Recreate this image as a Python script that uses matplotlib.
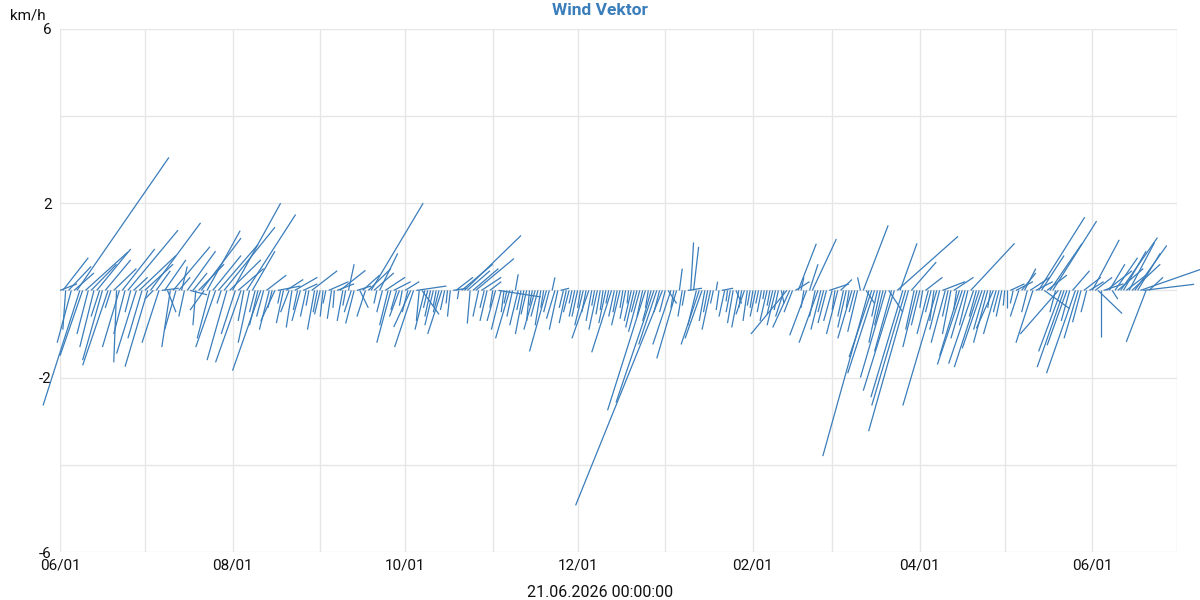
import matplotlib
matplotlib.use("Agg")
import matplotlib.pyplot as plt
import matplotlib.dates as mdates
from matplotlib.collections import LineCollection
from matplotlib.ticker import FixedLocator, NullFormatter
import numpy as np
import pandas as pd

plt.rcParams['font.family'] = ['Roboto', 'DejaVu Sans']

# ---- data: daily wind vectors (v = north component km/h, u = east component km/h) ----
start_date = "2025-06-01"
x_tick_labels = ["06/01", "08/01", "10/01", "12/01", "02/01", "04/01", "06/01"]
y_tick_values = [-6, -2, 2, 6]

v_2025_06 = [0.15, 0.75, -0.9, 0.55, -1.2, 0.4, 3.05, -2.64, -1.5, 0.88, -1.0, 0.6, -1.3, 0.95, -0.6,
             -1.6, 0.7, -1.72, -0.4, 0.5, -1.65, -1.3, 0.95, -1.0, 1.38, -0.5, 0.3, -1.45, 0.8, -1.1]
u_2025_06 = [0.6, 0.9, -0.1, 0.8, -0.5, 0.7, 3.25, -1.3, -0.8, 1.5, -0.4, 0.9, -0.5, 1.2, -0.3,
             -0.7, 0.9, -0.9, -0.2, 0.8, -0.1, -0.6, 1.15, -0.4, 1.77, -0.2, 0.5, -0.7, 1.3, -0.5]

v_2025_07 = [0.6, -1.75, 1.55, -0.2, 0.45, -1.2, 0.05, 0.7, -0.5, -1.3, 1.0, -0.9, 0.3, 0.55, -0.6, 0.9,
             -0.1, 0.4, -0.8, 0.6, 1.2, -0.45, 1.37, -1.1, 0.8, -1.3, 1.05, -0.3, 1.45, -1.6, 0.7]
u_2025_07 = [1.0, -0.8, 1.77, -0.3, 0.5, -0.6, 0.6, 0.75, 0.3, -0.3, 1.3, -0.4, 0.4, 0.2, -0.2, 1.0,
             0.6, 0.5, -0.1, 0.9, 1.4, -0.5, 1.17, -0.45, 1.0, -0.7, 1.4, -0.15, 1.8, -0.7, 1.1]

v_2025_08 = [2.0, -1.0, 0.5, -1.65, -0.7, 1.74, -1.2, 0.9, -0.5, -0.8, -1.84, -0.6, 0.35, -0.9, -0.4, -0.7,
             0.1, -0.3, -0.75, 0.25, -0.5, -0.85, 0.3, -0.45, -0.7, 0.15, -0.6, -0.35, 0.45, -0.9, -0.5]
u_2025_08 = [1.7, -0.5, 0.9, -0.9, -0.2, 1.73, -0.4, 0.8, -0.2, -0.3, -1.0, -0.25, 0.7, -0.35, -0.15, -0.5,
             0.8, -0.1, -0.25, 0.6, -0.3, -0.2, 0.8, -0.15, -0.3, 0.5, -0.2, -0.1, 0.9, -0.25, -0.15]

v_2025_09 = [-0.55, -0.6, -0.3, 0.2, -0.65, -0.4, 0.15, 0.46, -0.7, -0.35, 0.6, -0.5, -0.76, 0.1, -0.4,
             0.35, -0.6, 0.5, 2.0, 0.4, -0.3, 0.85, -0.5, 0.3, -0.8, -1.2, 0.2, -0.45, -0.6, -0.35]
u_2025_09 = [-0.2, -0.1, -0.1, 0.7, -0.15, -0.05, 0.6, 0.9, -0.2, -0.1, 0.2, -0.25, -0.3, 0.5, 0.3,
             0.6, -0.3, 0.8, 1.84, 0.7, -0.1, 0.64, -0.2, 0.7, -0.3, -0.5, 0.6, -0.2, -0.35, -0.1]

v_2025_10 = [0.2, -0.5, -0.84, -1.3, 0.1, -0.7, -0.55, -0.9, -0.4, -0.6, -0.8, -0.35, -0.5, -1.0, -0.45, -0.3,
             -0.6, 0.05, 0.3, -0.2, 0.6, 1.26, 0.45, -0.76, 0.5, 0.73, -0.6, 0.3, -0.4, -0.7, 0.2]
u_2025_10 = [0.5, -0.2, -0.6, -0.67, 1.06, -0.1, 0.6, -0.35, -0.15, -0.2, -0.3, -0.1, -0.2, -0.5, -0.15, -0.05,
             -0.1, 0.5, 0.6, -0.05, 1.1, 2.0, 0.8, -0.1, 0.9, 1.35, -0.2, 0.7, -0.15, -0.25, 0.4]

v_2025_11 = [-0.4, -0.7, -0.15, -0.9, -0.5, -0.3, -1.1, -0.6, 0.37, -0.8, -0.45, -1.0, -0.55, -0.7, -0.35,
             -0.9, -0.6, -0.8, -0.4, -1.4, -0.5, 0.3, -0.65, -0.9, 0.05, -0.4, -0.75, -0.5, -0.3, -0.6]
u_2025_11 = [-0.1, -0.3, 1.5, -0.35, -0.1, -0.1, -0.5, -0.2, 0.1, -0.3, -0.15, -0.3, -0.2, -0.1, -0.1,
             -0.4, -0.25, -0.2, -0.1, -0.6, -0.2, 0.1, -0.3, -0.3, 0.3, -0.15, -0.25, -0.2, -0.1, -0.2]

v_2025_12 = [-0.6, -0.4, -0.8, -0.5, -1.1, -0.7, -0.35, -0.9, -0.55, -0.45, -0.75, -0.3, -1.42, -0.6, -0.5, -0.8,
             -0.4, -0.65, -0.3, -0.7, -0.85, -0.5, -0.95, -0.6, -2.75, -0.4, -0.7, -2.57, -1.24, -0.5, -4.93]
u_2025_12 = [-0.2, -0.1, -0.3, -0.15, -0.6, -0.2, -0.1, -0.3, -0.15, -0.1, -0.25, -0.1, -0.7, -0.2, -0.15, -0.3,
             -0.1, -0.2, -0.05, -0.25, -0.3, -0.2, -0.4, -0.2, -1.34, -0.1, -0.3, -1.34, -0.64, -0.2, -3.07]

v_2026_01 = [-0.5, -0.3, -1.24, -0.4, -1.56, 0.5, -0.6, -0.35, 0.05, 1.1, 1.0, -0.8, -1.24, -1.1, -0.7, -0.5,
             -0.9, -0.3, 0.2, -0.45, 0.05, -0.6, -0.25, -0.5, -0.75, -0.3, -0.85, -0.4, -0.55, -0.7, -0.35]
u_2026_01 = [-0.2, 0.3, -0.64, -0.1, -0.7, 0.1, -0.15, -0.1, 0.5, 0.1, 0.18, -0.3, -0.64, -0.6, -0.2, -0.15,
             -0.3, -0.1, 0.05, -0.1, 0.4, -0.2, -0.05, -0.15, -0.2, 0.2, -0.25, -0.1, -0.3, -0.15, -0.1]

v_2026_02 = [-0.4, -0.6, -0.3, -0.5, -0.2, -0.7, -0.35, -0.55, -0.8, -0.45, -0.3, -0.6, -1.0, -0.85,
             -0.5, 0.2, 1.07, 0.3, -0.4, -1.03, 0.6, 1.18, -0.6, -1.2, -0.9, -0.5, -0.75, 0.15]
u_2026_02 = [-0.1, -0.2, -0.1, -0.15, -0.05, -0.25, -0.1, -0.2, -0.3, -0.15, 0.1, -0.3, -1.27, -0.6,
             -0.3, 0.5, 0.64, 0.1, -0.1, -0.6, 0.3, 0.85, -0.2, -0.67, -0.35, -0.2, -0.3, 0.7]

v_2026_03 = [-0.7, -0.45, -1.0, 0.25, -0.6, -0.85, -0.4, -1.1, -0.5, -0.95, 0.3, 1.49, -0.3, -3.8, -1.53, -1.9,
             -0.6, -1.2, -0.8, -2.0, -0.5, -1.4, -2.3, 1.24, 1.08, -2.45, -2.64, -3.23, 0.65, -0.9, -1.3]
u_2026_03 = [-0.3, -0.1, -0.4, 0.4, -0.2, -0.3, -0.1, -0.5, -0.2, -0.35, -0.1, 0.88, 0.3, -1.63, -0.8, -0.95,
             -0.2, -0.4, -0.3, -0.9, 0.5, -0.6, -1.1, 2.15, 0.6, -1.13, -1.2, -1.41, 0.88, -0.3, -0.5]

v_2026_04 = [-0.8, -0.4, 0.3, -1.0, -0.5, -0.7, -2.64, -0.9, 0.2, -1.2, -0.6, -1.0, 0.3, -0.45, -1.5,
             -1.7, -1.1, -0.8, 1.08, -1.68, -0.6, -1.76, -1.33, -0.9, -1.2, -0.4, -0.87, -1.0, -0.5, -0.6]
u_2026_04 = [-0.3, -0.1, 0.6, -0.4, -0.2, -0.15, -1.2, -0.35, 0.8, -0.5, -0.2, -0.3, 0.7, -0.1, -0.7,
             -0.88, -0.5, -0.3, 1.55, -0.88, -0.25, -0.88, -0.7, -0.4, -0.5, -0.1, -0.6, -0.45, -0.2, -0.2]

v_2026_05 = [-0.35, -0.4, 0.15, -0.3, 0.2, -0.6, 0.4, 0.5, -0.5, 0.3, -1.2, 0.2, 1.68, 0.8, -0.42, 0.35,
             1.07, 1.59, -0.5, -1.0, -1.4, -1.76, -1.26, -0.7, 0.45, -1.9, -1.1, -0.73, 0.3, -0.5, 0.2]
u_2026_05 = [-0.05, 0.0, 0.5, -0.1, 0.6, -0.3, 0.5, 0.4, -0.2, 0.7, -0.6, 0.6, 1.63, 0.8, 0.9, 0.7,
             1.13, 1.55, -0.2, -1.35, -0.8, -0.95, -0.7, -0.3, 0.6, -1.02, -0.5, -0.3, 0.6, -0.2, 0.5]

v_2026_06 = [1.16, 0.3, -0.53, -1.07, 0.15, 0.45, 0.6, -0.2, 0.75, 0.5, 1.21, 0.9, 0.35, 1.1, 0.6,
             1.03, 0.85, 0.48, 0.14, -1.18, 0.3]
u_2026_06 = [0.95, 0.6, 0.85, 0.0, 0.7, 0.9, 0.55, 0.2, 0.8, 0.9, 1.3, 0.8, 0.7, 0.9, 1.0,
             1.13, 0.8, 2.12, 1.8, -0.7, 0.5]

v_kmh = (v_2025_06 + v_2025_07 + v_2025_08 + v_2025_09 + v_2025_10 + v_2025_11 + v_2025_12
         + v_2026_01 + v_2026_02 + v_2026_03 + v_2026_04 + v_2026_05 + v_2026_06)
u_kmh = (u_2025_06 + u_2025_07 + u_2025_08 + u_2025_09 + u_2025_10 + u_2025_11 + u_2025_12
         + u_2026_01 + u_2026_02 + u_2026_03 + u_2026_04 + u_2026_05 + u_2026_06)

# ---- style ----
DAYS_PER_KMH = 10.0
LINE_COLOR = "#3a7dbb"
GRID_COLOR = "#e6e6e6"

dates = pd.date_range(start_date, periods=len(v_kmh), freq="D")
t0 = mdates.date2num(dates.to_pydatetime())
t1 = t0 + np.array(u_kmh) * DAYS_PER_KMH
vv = np.array(v_kmh)

fig = plt.figure(figsize=(12, 6), dpi=100)
ax = fig.add_axes([0.05, 0.08, 0.931, 0.872])

segs = [[(a, 0.0), (b, c)] for a, b, c in zip(t0, t1, vv)]
lc = LineCollection(segs, colors=LINE_COLOR, linewidths=0.9, clip_on=False, zorder=3)
ax.add_collection(lc)

ax.set_xlim(mdates.date2num(pd.Timestamp("2025-06-01")), mdates.date2num(pd.Timestamp("2026-07-01")))
ax.set_ylim(-6, 6)

major_x = pd.date_range("2025-06-01", "2026-06-01", freq="2MS")
minor_x = pd.date_range("2025-07-01", "2026-07-01", freq="2MS")
ax.xaxis.set_major_locator(FixedLocator(mdates.date2num(major_x.to_pydatetime())))
ax.set_xticklabels(x_tick_labels)
ax.xaxis.set_minor_locator(FixedLocator(mdates.date2num(minor_x.to_pydatetime())))
ax.xaxis.set_minor_formatter(NullFormatter())

ax.yaxis.set_major_locator(FixedLocator(y_tick_values))
ax.set_yticklabels([str(v) for v in y_tick_values])
ax.yaxis.set_minor_locator(FixedLocator([-4, 0, 4]))
ax.yaxis.set_minor_formatter(NullFormatter())

ax.grid(True, which="both", color=GRID_COLOR, linewidth=1.0, zorder=0)
ax.set_axisbelow(True)
for s in ax.spines.values():
    s.set_visible(False)
ax.tick_params(which="both", length=0)
ax.tick_params(axis="x", labelsize=11, pad=5, colors="#111111")
ax.tick_params(axis="y", labelsize=11, pad=6, colors="#111111")

fig.text(0.5, 0.983, "Wind Vektor", fontsize=12.5, fontweight="bold", color="#3a7dbb",
         ha="center", va="center")
fig.text(0.5, 0.012, "21.06.2026 00:00:00", fontsize=11.5, color="#111111",
         ha="center", va="center")
fig.text(0.008, 0.985, "km/h", fontsize=11, color="#111111", va="top", ha="left")

fig.savefig("out.png", dpi=100)
